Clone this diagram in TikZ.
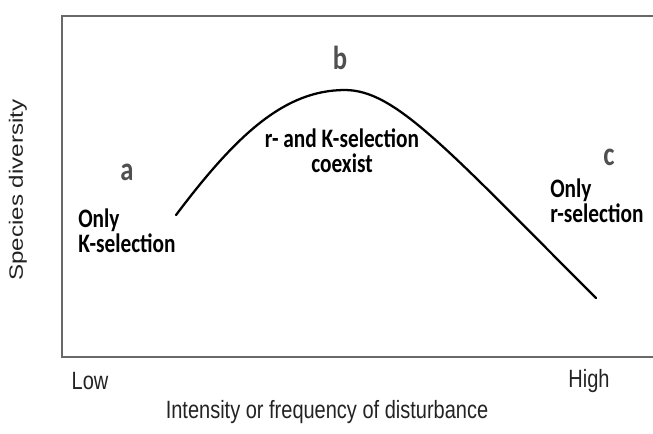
\documentclass[tikz,border=0pt]{standalone}
\usepackage{fontspec}
\setmainfont{Carlito}
\newfontfamily\axisfont{Liberation Sans}

\definecolor{framegray}{RGB}{105,105,105}
\definecolor{lettergray}{RGB}{80,80,80}
\definecolor{axisgray}{RGB}{35,35,35}

\tikzset{
  note/.style={font=\bfseries\fontsize{16}{15.2}\selectfont, align=left, inner sep=0pt},
  letter/.style={font=\bfseries\fontsize{20}{20}\selectfont, text=lettergray, inner sep=0pt},
  axislabel/.style={font=\axisfont\fontsize{15}{15}\selectfont, text=axisgray, inner sep=0pt},
}

\begin{document}
\begin{tikzpicture}[x=0.75pt, y=-0.6pt, yscale=1.25, every node/.style={transform shape}]
\useasboundingbox (0,0) rectangle (653,433);
% frame (open on the right)
\draw[framegray, line width=1.6pt] (660,16) -- (62,16) -- (62,357) -- (660,357);

% diversity curve
\coordinate (start) at (176,215);
\coordinate (peak) at (345,90);
\coordinate (stop) at (596,298);
\draw[line width=1.7pt, line cap=round] (start) .. controls (237,134) and (285,90) .. (peak)
  .. controls (395,90) and (446,148) .. (stop);

% regions
\node[letter] (a) at (127,172) {a};
\node[letter] (b) at (340,58) {b};
\node[letter] (c) at (609,157) {c};
\node[note, anchor=west] (onlyK) at (78,231) {Only\\K-selection};
\node[note, align=center] (both) at (342,151) {r- and K-selection\\coexist};
\node[note, anchor=west] (onlyr) at (550,201) {Only\\r-selection};

% axes
\node[axislabel, rotate=90, font=\axisfont\fontsize{14.5}{14.5}\selectfont] (ylab) at (18,190) {Species diversity};
\node[axislabel] (low) at (90,381) {Low};
\node[axislabel] (high) at (589,381) {High};
\node[axislabel] (xlab) at (327,412) {Intensity or frequency of disturbance};
\end{tikzpicture}
\end{document}
